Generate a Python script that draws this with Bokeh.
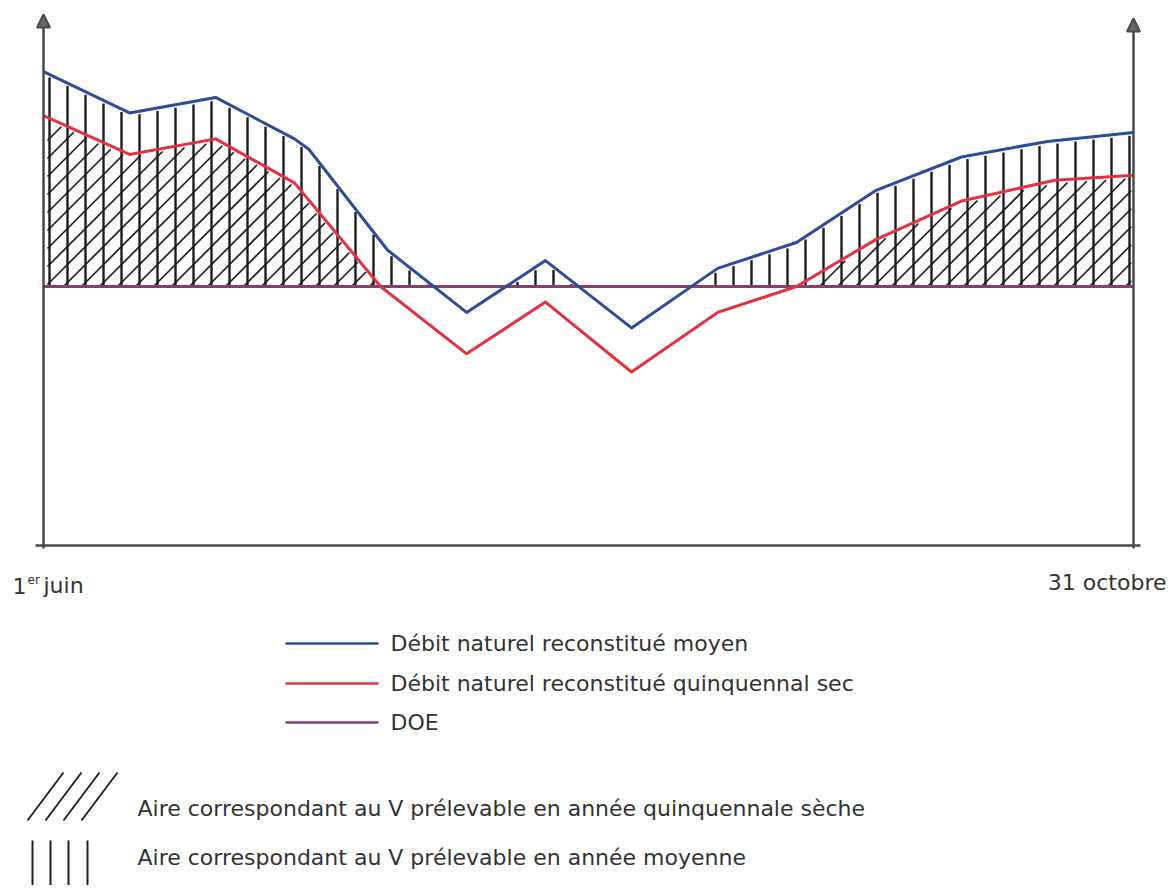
import numpy as np
from bokeh.plotting import figure
from bokeh.models import Range1d, Arrow, NormalHead
from bokeh.core.properties import value
from bokeh.embed import file_html
from bokeh.resources import INLINE

# ---------------- data ----------------
days_moyen = [0, 12, 24, 35, 37, 48, 59, 70, 82, 94, 105, 116, 128, 140, 152]
debit_moyen = [183, 167, 173, 157, 153, 114, 90, 110, 84, 107, 117, 137, 150, 156, 159.5]
days_sec = [0, 12, 24, 35, 47, 59, 70, 82, 94, 105, 116, 128, 141, 152]
debit_sec = [166, 151, 157, 140, 100, 74, 94, 67, 90, 100, 118, 133, 141, 143]
doe = 100
day_start, day_end = 0, 152
tick_labels = ["1", "er", "juin", "31 octobre"]
legend_lines = ["Débit naturel reconstitué moyen",
                "Débit naturel reconstitué quinquennal sec",
                "DOE"]
legend_areas = ["Aire correspondant au V prélevable en année quinquennale sèche",
                "Aire correspondant au V prélevable en année moyenne"]

# ---------------- layout (page pixels) ----------------
W, H = 1168, 885
X0_PX, X1_PX = 43, 1133
Y0_PX, YDOE_PX = 545, 286
sx = (X1_PX - X0_PX) / (day_end - day_start)
sy = (Y0_PX - YDOE_PX) / doe
HATCH_STEP = 18


def dx(px):
    return day_start + (np.asarray(px, dtype=float) - X0_PX) / sx


def dy(py):
    return (Y0_PX - np.asarray(py, dtype=float)) / sy


def to_px_y(v):
    return Y0_PX - np.asarray(v, dtype=float) * sy


BLUE = "#2b4d9c"
RED = "#e2323f"
PURPLE = "#84406b"
AXIS = "#4a4a4a"
TEXT = "#333333"
HATCH = "#1e1e1e"
FONT = value("DejaVu Sans")

p = figure(width=W, height=H, output_backend="svg", toolbar_location=None,
           x_axis_type=None, y_axis_type=None, min_border=0,
           x_range=Range1d(float(dx(0)), float(dx(W))),
           y_range=Range1d(float(dy(H)), float(dy(0))))
p.grid.visible = False
p.outline_line_color = None
p.background_fill_color = "white"
p.border_fill_color = "white"

# ---------------- hatching (drawn from the series) ----------------
# vertical hatch: DOE -> débit moyen, where débit moyen > DOE
vx_px = np.arange(49, X1_PX, HATCH_STEP)
vx_d = dx(vx_px)
v_top = np.interp(vx_d, days_moyen, debit_moyen)
keep = v_top > doe + 1.5
v_top_px = to_px_y(v_top[keep]) + 3
p.segment(x0=vx_d[keep], y0=np.full(keep.sum(), doe), x1=vx_d[keep],
          y1=dy(np.minimum(v_top_px, YDOE_PX)), line_color=HATCH, line_width=2.4)

# diagonal hatch "/": DOE -> débit quinquennal sec, where sec > DOE
gx_px = np.arange(X0_PX + 4, X1_PX - 2, 0.25)
red_px = to_px_y(np.interp(dx(gx_px), days_sec, debit_sec)) + 3
sx0, sy0, sx1, sy1 = [], [], [], []
c_first = YDOE_PX + 63 - HATCH_STEP * 30
for c in np.arange(c_first, YDOE_PX + X1_PX + 40, HATCH_STEP):
    ly = c - gx_px
    m = (ly <= YDOE_PX) & (ly >= red_px)
    if not m.any():
        continue
    idx = np.flatnonzero(m)
    breaks = np.flatnonzero(np.diff(idx) > 1)
    starts = np.concatenate([[idx[0]], idx[breaks + 1]])
    ends = np.concatenate([idx[breaks], [idx[-1]]])
    for a, b in zip(starts, ends):
        if gx_px[b] - gx_px[a] < 3:
            continue
        sx0.append(gx_px[a]); sy0.append(ly[a]); sx1.append(gx_px[b]); sy1.append(ly[b])
p.segment(x0=dx(sx0), y0=dy(sy0), x1=dx(sx1), y1=dy(sy1), line_color=HATCH, line_width=1.7)

# ---------------- axes ----------------
p.segment(x0=[float(dx(35))], y0=[0], x1=[float(dx(1140))], y1=[0], line_color=AXIS, line_width=2.5)
for xa, tip in [(day_start, 14), (day_end, 18)]:
    p.add_layout(Arrow(end=NormalHead(size=13, line_color=AXIS, line_width=2,
                                      fill_color="#666666"),
                       x_start=xa, y_start=float(dy(548)), x_end=xa, y_end=float(dy(tip)),
                       line_color=AXIS, line_width=2.5))

# ---------------- series ----------------
p.line(x=[day_start, day_end], y=[doe, doe], line_color=PURPLE, line_width=3)
p.line(x=days_sec, y=debit_sec, line_color=RED, line_width=3, line_join="round")
p.line(x=days_moyen, y=debit_moyen, line_color=BLUE, line_width=3, line_join="round")


# ---------------- x labels ----------------
def txt(xp, yp, s, size="22px", align="left"):
    p.text(x=[float(dx(xp))], y=[float(dy(yp))], text=[s], text_font=FONT,
           text_font_size=size, text_color=TEXT, text_baseline="middle", text_align=align)


txt(12, 585, tick_labels[0])
txt(27, 579, tick_labels[1], size="12px")
txt(43, 585, tick_labels[2])
txt(1166, 582, tick_labels[3], align="right")

# ---------------- legend: lines ----------------
leg_y = [643, 683, 722]
for ypx, col, lab in zip(leg_y, [BLUE, RED, PURPLE], legend_lines):
    p.segment(x0=[float(dx(285))], y0=[float(dy(ypx))], x1=[float(dx(378))], y1=[float(dy(ypx))],
              line_color=col, line_width=2.5)
    txt(390, ypx, lab)

# ---------------- legend: hatch samples ----------------
dg_x0 = np.array([27 + 18 * k for k in range(4)])
p.segment(x0=dx(dg_x0), y0=np.full(4, float(dy(820))),
          x1=dx(dg_x0 + 36), y1=np.full(4, float(dy(772))),
          line_color=HATCH, line_width=1.8)
vt_x = np.array([32, 50, 68, 87])
p.segment(x0=dx(vt_x), y0=np.full(4, float(dy(840))),
          x1=dx(vt_x), y1=np.full(4, float(dy(893))),
          line_color=HATCH, line_width=2)
for ypx, lab in zip([808, 857], legend_areas):
    txt(137, ypx, lab)

open("out.html", "w").write(file_html(p, INLINE))
